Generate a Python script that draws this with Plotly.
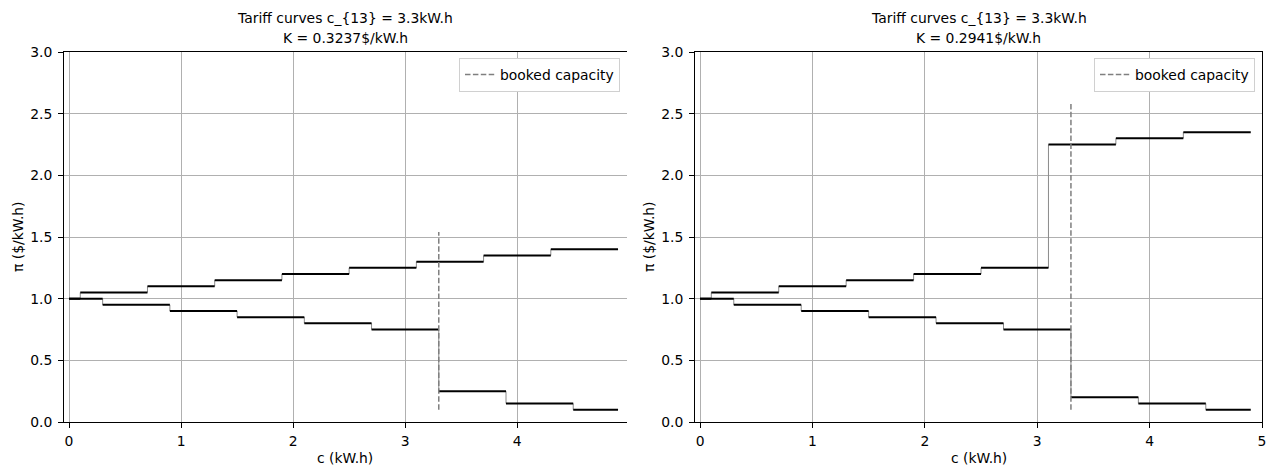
import plotly.graph_objects as go

# step curves: segment edges (kW.h) and price levels ($/kW.h)
edges_up = [0, 0.1, 0.7, 1.3, 1.9, 2.5, 3.1, 3.7, 4.3, 4.9]
edges_low = [0, 0.3, 0.9, 1.5, 2.1, 2.7, 3.3, 3.9, 4.5, 4.9]

left_up = [1.0, 1.05, 1.1, 1.15, 1.2, 1.25, 1.3, 1.35, 1.4]
left_low = [1.0, 0.95, 0.9, 0.85, 0.8, 0.75, 0.25, 0.15, 0.1]
right_up = [1.0, 1.05, 1.1, 1.15, 1.2, 1.25, 2.25, 2.3, 2.35]
right_low = [1.0, 0.95, 0.9, 0.85, 0.8, 0.75, 0.2, 0.15, 0.1]

booked = 3.3
K_values = ["0.3237", "0.2941"]

font = "DejaVu Sans"
fs = 13.9


def steps(edges, levels):
    hx, hy, vx, vy = [], [], [], []
    for i, lv in enumerate(levels):
        hx += [edges[i], edges[i + 1], None]
        hy += [lv, lv, None]
        if i > 0:
            vx += [edges[i], edges[i], None]
            vy += [levels[i - 1], lv, None]
    return hx, hy, vx, vy


fig = go.Figure()

panels = [
    dict(up=left_up, low=left_low, xa="x", ya="y", leg="legend"),
    dict(up=right_up, low=right_low, xa="x2", ya="y2", leg="legend2"),
]

for p in panels:
    for edges, levels in [(edges_up, p["up"]), (edges_low, p["low"])]:
        hx, hy, vx, vy = steps(edges, levels)
        fig.add_trace(go.Scatter(x=vx, y=vy, mode="lines", xaxis=p["xa"], yaxis=p["ya"],
                                 line=dict(color="#8a8a8a", width=1), showlegend=False,
                                 hoverinfo="skip"))
        fig.add_trace(go.Scatter(x=hx, y=hy, mode="lines", xaxis=p["xa"], yaxis=p["ya"],
                                 line=dict(color="black", width=2), showlegend=False))
    top = 1.1 * max(p["up"])
    fig.add_trace(go.Scatter(x=[booked, booked], y=[0.1, top], mode="lines",
                             xaxis=p["xa"], yaxis=p["ya"], name="booked capacity",
                             legend=p["leg"],
                             line=dict(color="#7f7f7f", width=1.5, dash="5.5px,2.4px")))

W, H = 1268, 471
ydom = [(H - 422) / H, (H - 52) / H]
xdoms = [[64 / W, 627 / W], [695 / W, 1262 / W]]
xranges = [[-0.045, 4.98], [-0.045, 5.0]]

axis_common = dict(showgrid=True, gridcolor="#b0b0b0", gridwidth=1, showline=True,
                   linecolor="black", linewidth=1, ticks="outside", ticklen=5,
                   tickcolor="black", zeroline=False, automargin=False,
                   tickfont=dict(family=font, size=fs, color="black"))

layout = dict(
    width=W, height=H, margin=dict(l=0, r=0, t=0, b=0),
    paper_bgcolor="white", plot_bgcolor="white",
    font=dict(family=font, color="black", size=fs),
)
for i, (xd, xr) in enumerate(zip(xdoms, xranges)):
    sfx = "" if i == 0 else str(i + 1)
    layout["xaxis" + sfx] = dict(axis_common, domain=xd, range=xr, tickvals=[0, 1, 2, 3, 4, 5],
                                 mirror=True, anchor="y" + sfx, ticklabelstandoff=1)
    layout["yaxis" + sfx] = dict(axis_common, domain=ydom, range=[0, 3], dtick=0.5,
                                 tickformat=".1f", mirror=(i == 1), anchor="x" + sfx,
                                 ticklabelstandoff=3)
    leg = dict(x=(xd[1] * W - 7) / W, y=(H - 58) / H, xanchor="right", yanchor="top",
               bgcolor="white", bordercolor="#d0d0d0", borderwidth=1,
               font=dict(family=font, size=fs), itemwidth=30,
               tracegroupgap=0)
    layout["legend" if i == 0 else "legend2"] = leg

fig.update_layout(**layout)

for i, xd in enumerate(xdoms):
    cx = (xd[0] + xd[1]) / 2
    lines = ["Tariff curves c_{13} = 3.3kW.h", "K = " + K_values[i] + "$/kW.h"]
    for txt, ypx in zip(lines, [18, 38]):
        fig.add_annotation(x=cx, y=(H - ypx) / H, xref="paper", yref="paper", showarrow=False,
                           text=txt, xanchor="center", yanchor="middle",
                           font=dict(family=font, size=fs))
    # axis titles
    fig.add_annotation(x=cx, y=(H - 458) / H, xref="paper", yref="paper", showarrow=False,
                       text="c (kW.h)", xanchor="center", yanchor="middle",
                       font=dict(family=font, size=fs))
    fig.add_annotation(x=(xd[0] * W - 46) / W, y=(H - 237) / H, xref="paper", yref="paper",
                       showarrow=False, text="π ($/kW.h)", textangle=-90,
                       xanchor="center", yanchor="middle", font=dict(family=font, size=fs))

fig.write_html("out.html", config={"displayModeBar": False},
               post_script="document.body.style.margin='0';")
